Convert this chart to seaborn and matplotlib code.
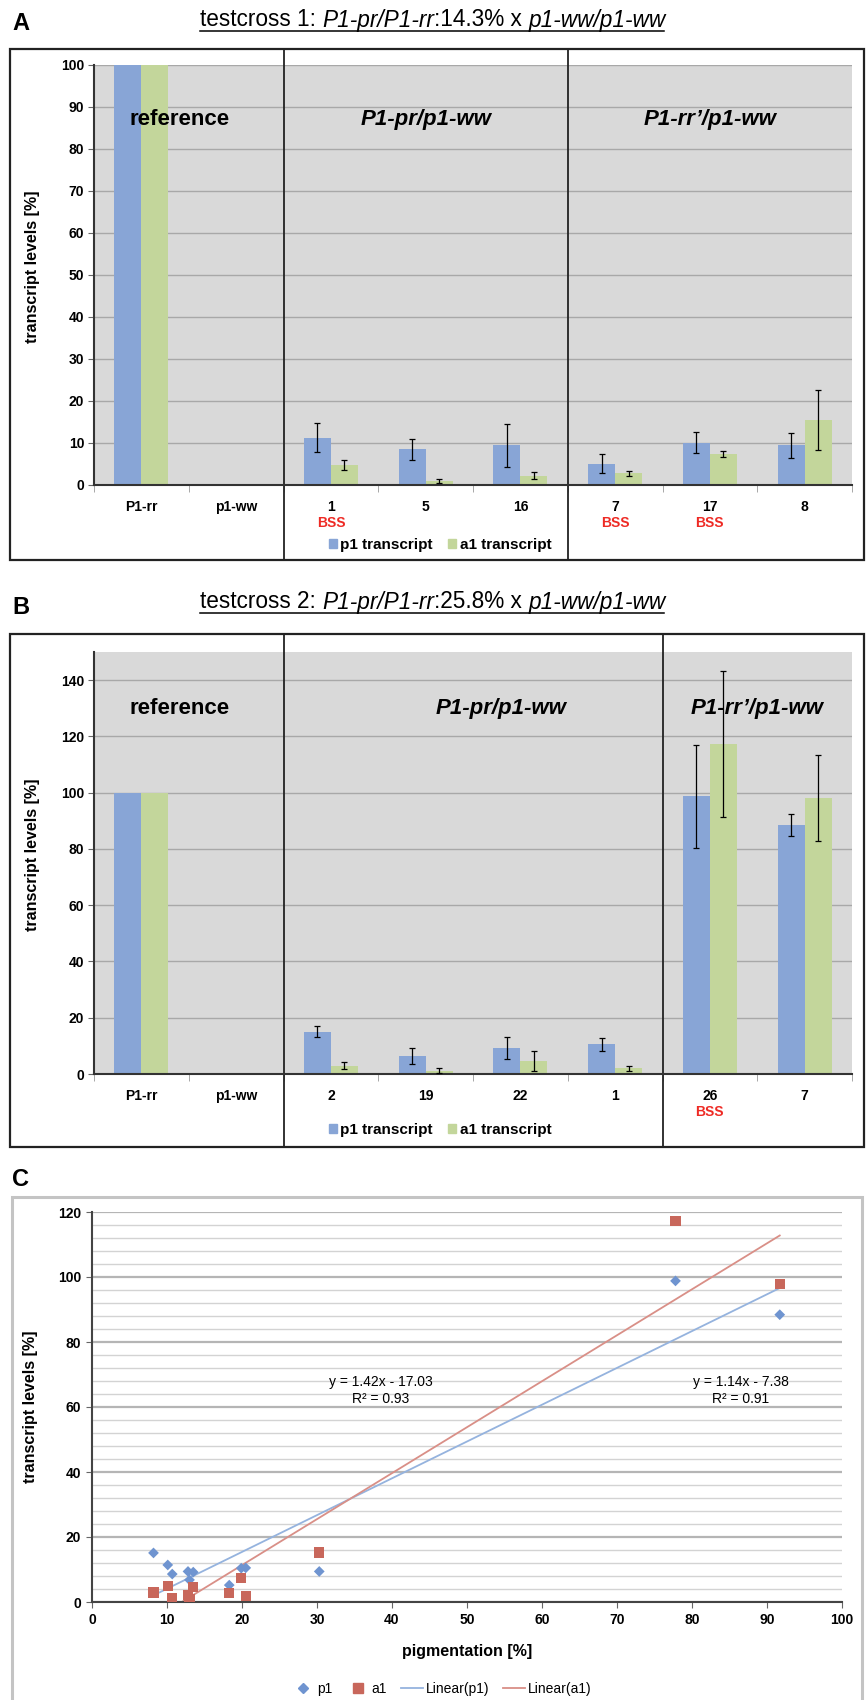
import numpy as np
import pandas as pd
import matplotlib
matplotlib.use('Agg')
import matplotlib.pyplot as plt
from matplotlib.patches import Rectangle, Patch
from matplotlib.lines import Line2D
import seaborn as sns

# ---- data ----
# A: testcross 1
cats_a = ['P1-rr', 'p1-ww', '1', '5', '16', '7', '17', '8']
p1_a = [100, 0, 11.3, 8.5, 9.5, 5.1, 10.1, 9.5]
p1_a_err = [0, 0, 3.4, 2.45, 5.1, 2.3, 2.45, 3.0]
a1_a = [100, 0, 4.8, 0.95, 2.2, 2.8, 7.4, 15.5]
a1_a_err = [0, 0, 1.2, 0.55, 0.8, 0.55, 0.65, 7.1]
bss_a = ['1', '7', '17']

# B: testcross 2
cats_b = ['P1-rr', 'p1-ww', '2', '19', '22', '1', '26', '7']
p1_b = [100, 0, 15.1, 6.3, 9.3, 10.5, 98.8, 88.5]
p1_b_err = [0, 0, 2.0, 2.9, 3.8, 2.2, 18.3, 4.0]
a1_b = [100, 0, 3.0, 1.2, 4.65, 2.1, 117.3, 98.1]
a1_b_err = [0, 0, 1.2, 0.8, 3.6, 0.9, 26.0, 15.4]
bss_b = ['26']

# C: pigmentation vs transcript
pig_p1 = [8.2, 10.1, 10.7, 12.8, 13.0, 13.5, 18.3, 19.9, 20.5, 30.3, 77.8, 91.7]
lev_p1 = [15.1, 11.4, 8.6, 9.4, 6.8, 9.2, 5.2, 10.4, 10.5, 9.4, 98.8, 88.4]
pig_a1 = [8.2, 10.1, 10.7, 12.8, 13.0, 13.5, 18.3, 19.9, 20.5, 30.3, 77.8, 91.7]
lev_a1 = [2.9, 5.0, 1.2, 2.2, 0.9, 4.6, 2.7, 7.3, 1.9, 15.2, 117.3, 97.8]
eq_a1 = 'y = 1.42x - 17.03\nR² = 0.93'
eq_p1 = 'y = 1.14x - 7.38\nR² = 0.91'

BLUE = '#88a5d6'
GREEN = '#c3d69b'
BG = '#d9d9d9'
RED_TXT = '#ee2a24'
DOT_BLUE = '#6f94d0'
DOT_RED = '#c8675b'
LINE_BLUE = '#95b3de'
LINE_RED = '#d98f87'

plt.rcParams['font.family'] = ['Liberation Sans', 'DejaVu Sans']

W, H = 866, 1700
fig = plt.figure(figsize=(W / 100, H / 100), dpi=100)


def fx(px):
    return px / W


def fy(py):
    return 1 - py / H


def title(y, parts, cx, size=16.3):
    # mixed upright / italic title, centred and underlined
    r = fig.canvas.get_renderer()
    texts = []
    for s, st in parts:
        t = fig.text(0, fy(y), s, fontsize=size, style=st, ha='left', va='center')
        texts.append(t)
    widths = [t.get_window_extent(r).width for t in texts]
    total = sum(widths)
    x = cx - total / 2
    x0 = x
    for t, w in zip(texts, widths):
        t.set_text(t.get_text().strip())
        t.set_x(fx(x))
        x += w
    fig.add_artist(Line2D([fx(x0), fx(x - 2)], [fy(y + 11), fy(y + 11)],
                          transform=fig.transFigure, color='black', lw=1.1))


def bar_panel(rect, box, cats, p1, p1e, a1, a1e, bss, ymax, yticks, dividers,
              headings, legend_y):
    left, top, right, bottom = rect
    ax = fig.add_axes([fx(left), fy(bottom), (right - left) / W, (bottom - top) / H])
    df = pd.DataFrame({'sample': cats * 2, 'level': p1 + a1,
                       'transcript': ['p1 transcript'] * len(cats) + ['a1 transcript'] * len(cats)})
    sns.barplot(data=df, x='sample', y='level', hue='transcript', order=cats,
                hue_order=['p1 transcript', 'a1 transcript'], palette=[BLUE, GREEN],
                width=0.57, saturation=1, errorbar=None, legend=False, ax=ax)
    for cont, err in zip(list(ax.containers)[:2], [p1e, a1e]):
        xs = [b.get_x() + b.get_width() / 2 for b in cont]
        ys = [b.get_height() for b in cont]
        keep = [i for i, e in enumerate(err) if e > 0]
        ax.errorbar([xs[i] for i in keep], [ys[i] for i in keep],
                    yerr=[err[i] for i in keep], fmt='none', ecolor='black',
                    elinewidth=0.9, capsize=2.5, capthick=0.9, zorder=5)
    ax.set_xlim(-0.5, len(cats) - 0.5)
    ax.set_ylim(0, ymax)
    ax.set_yticks(yticks)
    ax.set_yticklabels([str(v) for v in yticks], fontweight='bold', fontsize=10)
    ax.set_facecolor(BG)
    ax.grid(axis='y', color='#a8a8a8', lw=1)
    ax.set_axisbelow(True)
    for s in ['top', 'right']:
        ax.spines[s].set_visible(False)
    for s in ['left', 'bottom']:
        ax.spines[s].set_color('#333333')
        ax.spines[s].set_linewidth(1.5)
    ax.set_xticks(range(len(cats)))
    ax.set_xticklabels(cats, fontweight='bold', fontsize=10)
    ax.set_xticks(np.arange(-0.5, len(cats), 1), minor=True)
    ax.tick_params(axis='x', which='major', length=0, pad=11)
    ax.tick_params(axis='x', which='minor', length=5, color='#999999')
    ax.tick_params(axis='y', length=4, color='#666666', pad=3)
    ax.set_xlabel('')
    ax.set_ylabel('transcript levels [%]', fontweight='bold', fontsize=11.5)
    ax.yaxis.set_label_coords((40 - left) / (right - left), 0.52)
    for c in bss:
        ax.annotate('BSS', xy=(cats.index(c), 0), xycoords=('data', 'axes fraction'),
                    xytext=(0, -38 * 0.72), textcoords='offset points', ha='center',
                    va='center', color=RED_TXT, fontweight='bold', fontsize=10)
    bl, bt, br, bb = box
    fig.add_artist(Rectangle((fx(bl), fy(bb)), (br - bl) / W, (bb - bt) / H,
                             transform=fig.transFigure, fill=False, ec='#222222', lw=1.6))
    h = bottom - top
    for d in dividers:
        ax.axvline(d, ymin=-(bb - bottom) / h, ymax=1 + (top - bt) / h,
                   color='#222222', lw=1.3, clip_on=False)
    for txt, x, y, st in headings:
        ax.text(x, y, txt, ha='center', va='center', fontsize=16, fontweight='bold', style=st)
    handles = [Patch(color=BLUE), Patch(color=GREEN)]
    fig.legend(handles, ['p1 transcript', 'a1 transcript'], loc='center',
               bbox_to_anchor=(fx(440), fy(legend_y)), ncol=2, frameon=False,
               prop=dict(weight='bold', size=11), handlelength=0.55, handleheight=0.55,
               handletextpad=0.2, columnspacing=1.0)
    return ax


# ---- panel A ----
fig.text(fx(12), fy(23), 'A', fontsize=17, fontweight='bold', va='center')
title(20, [('testcross 1: ', 'normal'), ('P1-pr/P1-rr', 'italic'),
           (':14.3% x ', 'normal'), ('p1-ww/p1-ww', 'italic')], 433)
bar_panel((94, 65, 852, 485), (10, 49, 864, 560), cats_a, p1_a, p1_a_err, a1_a, a1_a_err,
          bss_a, 100, list(range(0, 101, 10)), [1.5, 4.5],
          [('reference', 0.4, 87, 'normal'), ('P1-pr/p1-ww', 3.0, 87, 'italic'),
           ('P1-rr’/p1-ww', 6.0, 87, 'italic')], 545)

# ---- panel B ----
fig.text(fx(12), fy(608), 'B', fontsize=17, fontweight='bold', va='center')
title(602, [('testcross 2: ', 'normal'), ('P1-pr/P1-rr', 'italic'),
            (':25.8% x ', 'normal'), ('p1-ww/p1-ww', 'italic')], 433)
bar_panel((94, 652, 852, 1074), (10, 634, 864, 1147), cats_b, p1_b, p1_b_err, a1_b, a1_b_err,
          bss_b, 150, list(range(0, 141, 20)), [1.5, 5.5],
          [('reference', 0.4, 130, 'normal'), ('P1-pr/p1-ww', 3.8, 130, 'italic'),
           ('P1-rr’/p1-ww', 6.5, 130, 'italic')], 1130)

# ---- panel C ----
fig.text(fx(12), fy(1180), 'C', fontsize=17, fontweight='bold', va='center')
fig.add_artist(Rectangle((fx(12), fy(1712)), (862 - 12) / W, (1712 - 1197) / H,
                         transform=fig.transFigure, fill=False, ec='#c4c4c4', lw=2.2))
axc = fig.add_axes([fx(92), fy(1602), (842 - 92) / W, (1602 - 1212) / H])
dfc = pd.DataFrame({'pig': pig_p1 + pig_a1, 'level': lev_p1 + lev_a1,
                    'gene': ['p1'] * len(pig_p1) + ['a1'] * len(pig_a1)})
sns.regplot(x=pig_p1, y=lev_p1, scatter=False, ci=None, color=LINE_BLUE,
            line_kws={'lw': 1.3}, ax=axc)
sns.regplot(x=pig_a1, y=lev_a1, scatter=False, ci=None, color=LINE_RED,
            line_kws={'lw': 1.3}, ax=axc)
sns.scatterplot(data=dfc, x='pig', y='level', hue='gene', style='gene',
                markers={'p1': 'D', 'a1': 's'}, palette={'p1': DOT_BLUE, 'a1': DOT_RED},
                size='gene', sizes={'p1': 30, 'a1': 55}, edgecolor='none', legend=False,
                ax=axc, zorder=3)
axc.set_xlim(0, 100)
axc.set_ylim(0, 120)
axc.set_xticks(range(0, 101, 10))
axc.set_xticklabels([str(v) for v in range(0, 101, 10)], fontweight='bold', fontsize=10)
axc.set_yticks(range(0, 121, 20))
axc.set_yticklabels([str(v) for v in range(0, 121, 20)], fontweight='bold', fontsize=10)
axc.set_yticks(np.arange(0, 121, 4), minor=True)
axc.grid(axis='y', which='major', color='#b5b5b5', lw=1.6)
axc.grid(axis='y', which='minor', color='#d3d3d3', lw=1.0)
axc.set_axisbelow(True)
axc.tick_params(axis='y', which='minor', length=0)
axc.tick_params(axis='both', which='major', length=4, color='#666666', pad=4)
for s in ['top', 'right']:
    axc.spines[s].set_visible(False)
for s in ['left', 'bottom']:
    axc.spines[s].set_color('#444444')
    axc.spines[s].set_linewidth(1.5)
axc.set_xlabel('pigmentation [%]', fontweight='bold', fontsize=11.5, labelpad=12)
axc.set_ylabel('transcript levels [%]', fontweight='bold', fontsize=11.5)
axc.yaxis.set_label_coords((38 - 92) / 750, 0.5)
axc.text(38.5, 65, eq_a1, ha='center', va='center', fontsize=10, linespacing=1.3)
axc.text(86.5, 65, eq_p1, ha='center', va='center', fontsize=10, linespacing=1.3)
hc = [Line2D([], [], marker='D', ls='none', color=DOT_BLUE, markersize=5),
      Line2D([], [], marker='s', ls='none', color=DOT_RED, markersize=7),
      Line2D([], [], color=LINE_BLUE, lw=1.3),
      Line2D([], [], color=LINE_RED, lw=1.3)]
fig.legend(hc, ['p1', 'a1', 'Linear(p1)', 'Linear(a1)'], loc='center',
           bbox_to_anchor=(fx(442), fy(1689)), ncol=4, frameon=False, fontsize=10,
           handlelength=1.6, handletextpad=0.2, columnspacing=1.0)

fig.savefig('out.png', dpi=100)
